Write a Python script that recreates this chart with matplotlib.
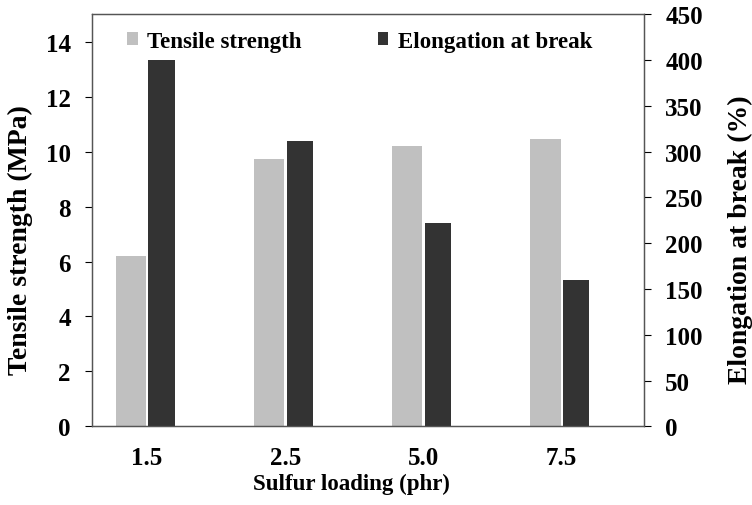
import numpy as np
import matplotlib.pyplot as plt

plt.rcParams['font.family'] = ['Liberation Serif', 'DejaVu Serif']
plt.rcParams['font.weight'] = 'bold'

loading = ['1.5', '2.5', '5.0', '7.5']
tensile = [6.2, 9.73, 10.22, 10.45]        # MPa
elongation = [400, 312, 222, 160]          # %

x = np.arange(len(loading))

fig = plt.figure(figsize=(7.52, 5.06), dpi=100)
ax = fig.add_axes([0.122, 0.1555, 0.735, 0.8143])
ax2 = ax.twinx()

b1 = ax.bar(x - 0.117, tensile, width=0.22, color='#c0c0c0', label='Tensile strength')
b2 = ax2.bar(x + 0.105, elongation, width=0.19, color='#333333', label='Elongation at break')

ax.set_xlim(-0.4, 3.6)
ax.set_ylim(0, 15)
ax.set_yticks(range(0, 15, 2))
ax2.set_ylim(0, 450)
ax2.set_yticks(range(0, 451, 50))

ax.set_xticks(x)
ax.set_xticklabels(loading)
ax.tick_params(axis='x', length=0, pad=14, labelsize=18)
ax.tick_params(axis='y', direction='out', length=5, labelsize=18, pad=10)
ax2.tick_params(axis='y', direction='out', length=5, labelsize=18, pad=10)

for a in (ax, ax2):
    for s in a.spines.values():
        s.set_color('#555555')
        s.set_linewidth(0.9)

ax.set_xlabel('Sulfur loading (phr)', fontsize=16.5, fontweight='bold')
ax.set_ylabel('Tensile strength (MPa)', fontsize=20, fontweight='bold')
ax2.set_ylabel('Elongation at break (%)', fontsize=20, fontweight='bold')
ax.xaxis.set_label_coords(0.470, -0.112)
ax.yaxis.set_label_coords(-0.106, 0.455)
ax2.yaxis.set_label_coords(1.1515, 0.455)

ax.legend([b1, b2], ['Tensile strength', 'Elongation at break'], ncol=2, frameon=False,
          loc='upper left', bbox_to_anchor=(0.027, 1.01), fontsize=16.5,
          handlelength=0.45, handleheight=0.45, handletextpad=0.4, columnspacing=3.35)

plt.savefig('out.png', dpi=100)
